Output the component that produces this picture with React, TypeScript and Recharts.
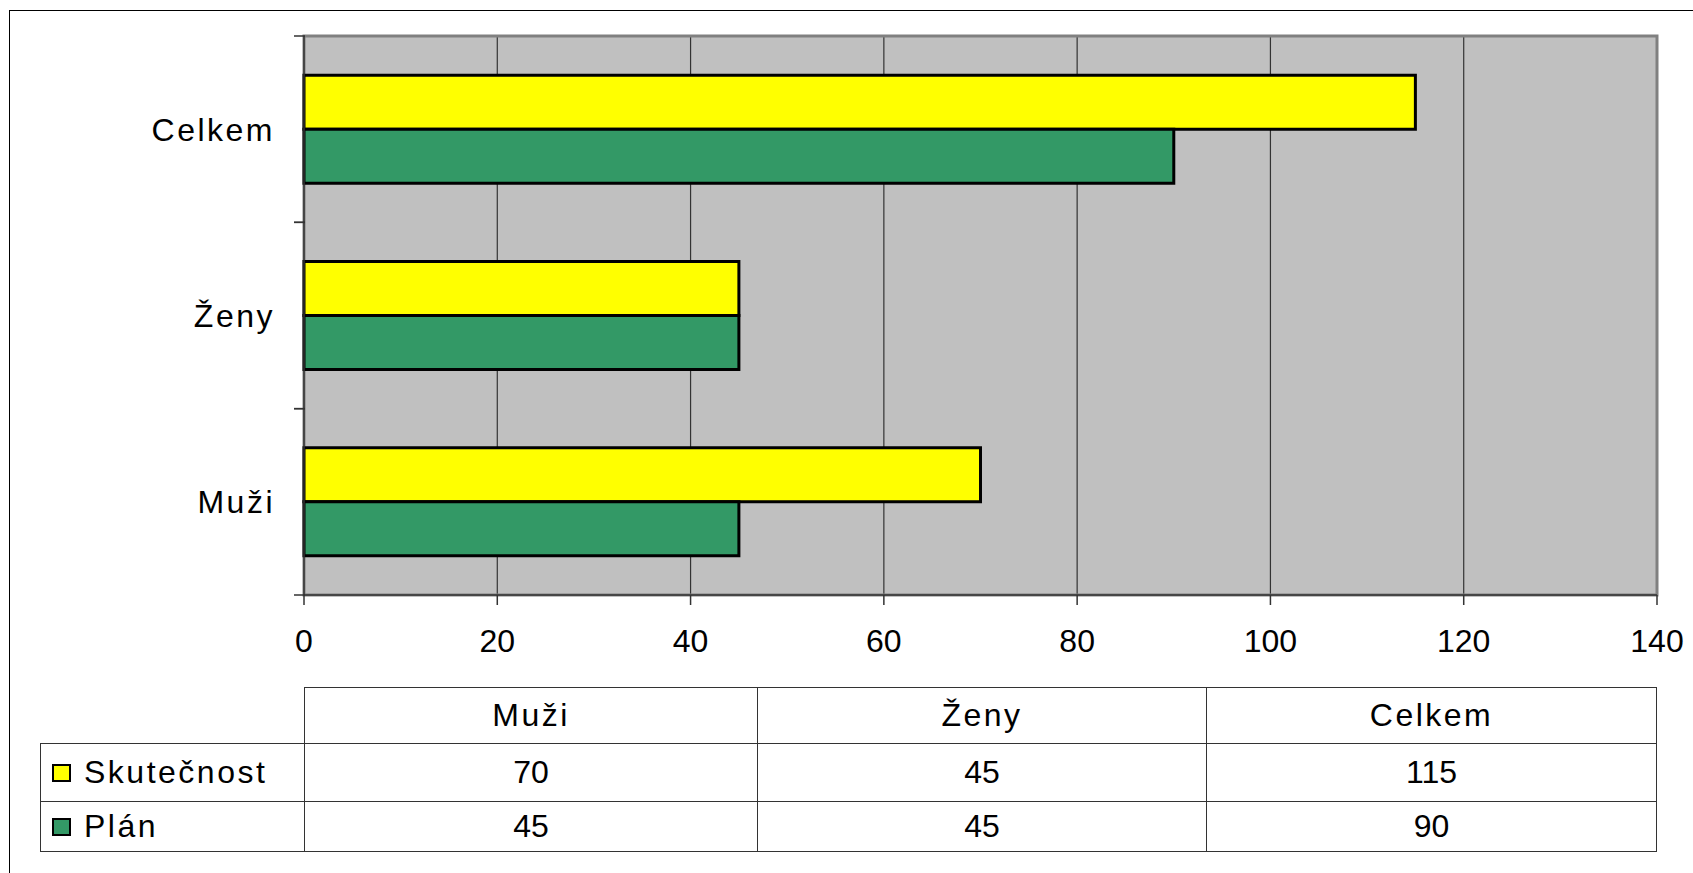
import React from "react";
import { BarChart, Bar, XAxis, YAxis, CartesianGrid, ReferenceArea } from "recharts";

const categories = ["Muži", "Ženy", "Celkem"];
const skutecnost = [70, 45, 115];
const plan = [45, 45, 90];
const xTicks = [0, 20, 40, 60, 80, 100, 120, 140];
const seriesNames = ["Skutečnost", "Plán"];
const seriesColors = ["#FFFF00", "#339966"];

const data = categories.map((c, i) => ({ name: c, skutecnost: skutecnost[i], plan: plan[i] }));
const tableRows = [skutecnost, plan];

const FONT = '"Liberation Sans", Arial, Helvetica, sans-serif';

const CategoryTick = (props: any) => {
  const { x, y, payload } = props;
  const half = payload && payload.offset ? payload.offset : 0;
  return (
    <g>
      <text x={x} y={y} dy="0.355em" textAnchor="end" fontSize={32} fill="#000" fontFamily={FONT} letterSpacing={2.5}>
        {payload.value}
      </text>
      <line x1={x + 19} x2={x + 30} y1={y - half} y2={y - half} stroke="#333" strokeWidth={1.5} />
      <line x1={x + 19} x2={x + 30} y1={y + half} y2={y + half} stroke="#333" strokeWidth={1.5} />
    </g>
  );
};

export default function App() {
  const colLefts = [304, 757, 1206];
  const colRights = [757, 1206, 1657];
  return (
    <div style={{ position: "absolute", left: 0, top: 0, width: 1693, height: 873, overflow: "hidden", background: "#fff", fontFamily: FONT }}>
      <div style={{ position: "absolute", left: 9, top: 10, width: 1800, height: 1000, border: "1.5px solid #000" }} />
      <div style={{ position: "absolute", left: 0, top: 0 }}>
        <BarChart
          width={1693}
          height={700}
          data={data}
          layout="vertical"
          margin={{ top: 36, right: 36, left: 0, bottom: 45 }}
          barCategoryGap="21%"
          barGap={0}
        >
          <CartesianGrid horizontal={false} vertical={true} fill="#C0C0C0" stroke="#333" strokeWidth={1.2} verticalValues={xTicks} />
          <ReferenceArea x1={0} x2={140} fill="none" stroke="#808080" strokeWidth={3} ifOverflow="visible" />
          <XAxis
            type="number"
            domain={[0, 140]}
            ticks={xTicks}
            interval={0}
            height={60}
            tickSize={10}
            tickMargin={24}
            axisLine={{ stroke: "#333", strokeWidth: 1.5 }}
            tickLine={{ stroke: "#333", strokeWidth: 1.5 }}
            tick={{ fontSize: 32, fill: "#000", fontFamily: FONT }}
          />
          <YAxis
            type="category"
            dataKey="name"
            reversed
            width={304}
            tickSize={0}
            tickMargin={29}
            axisLine={{ stroke: "#333", strokeWidth: 1.5 }}
            tickLine={false}
            tick={<CategoryTick />}
          />
          <Bar dataKey="skutecnost" name={seriesNames[0]} fill={seriesColors[0]} stroke="#000" strokeWidth={3} isAnimationActive={false} />
          <Bar dataKey="plan" name={seriesNames[1]} fill={seriesColors[1]} stroke="#000" strokeWidth={3} isAnimationActive={false} />
        </BarChart>
      </div>
      {categories.map((c, i) => (
        <div
          key={"h" + i}
          style={{
            position: "absolute",
            left: colLefts[i],
            top: 687,
            width: colRights[i] - colLefts[i],
            height: 56,
            borderTop: "1.5px solid #333",
            borderLeft: "1.5px solid #333",
            borderRight: i === categories.length - 1 ? "1.5px solid #333" : "none",
            boxSizing: "border-box",
            display: "flex",
            alignItems: "center",
            justifyContent: "center",
            fontSize: 32,
            letterSpacing: 2.5,
          }}
        >
          {c}
        </div>
      ))}
      {tableRows.map((row, r) => {
        const top = r === 0 ? 743 : 801;
        const h = r === 0 ? 58 : 51;
        return (
          <React.Fragment key={"r" + r}>
            <div
              style={{
                position: "absolute",
                left: 40,
                top,
                width: 264,
                height: h,
                borderTop: "1.5px solid #333",
                borderLeft: "1.5px solid #333",
                borderBottom: r === tableRows.length - 1 ? "1.5px solid #333" : "none",
                boxSizing: "border-box",
                display: "flex",
                alignItems: "center",
                fontSize: 32,
                letterSpacing: 2.5,
              }}
            >
              <span
                style={{
                  display: "inline-block",
                  width: 19,
                  height: 18,
                  marginLeft: 11,
                  marginRight: 13,
                  background: seriesColors[r],
                  border: "2px solid #000",
                  boxSizing: "border-box",
                }}
              />
              {seriesNames[r]}
            </div>
            {row.map((v, i) => (
              <div
                key={i}
                style={{
                  position: "absolute",
                  left: colLefts[i],
                  top,
                  width: colRights[i] - colLefts[i],
                  height: h,
                  borderTop: "1.5px solid #333",
                  borderLeft: "1.5px solid #333",
                  borderRight: i === row.length - 1 ? "1.5px solid #333" : "none",
                  borderBottom: r === tableRows.length - 1 ? "1.5px solid #333" : "none",
                  boxSizing: "border-box",
                  display: "flex",
                  alignItems: "center",
                  justifyContent: "center",
                  fontSize: 32,
                }}
              >
                {v}
              </div>
            ))}
          </React.Fragment>
        );
      })}
    </div>
  );
}
